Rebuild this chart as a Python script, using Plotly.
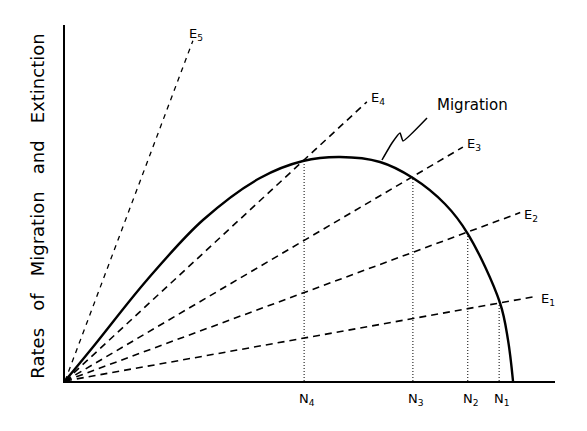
import plotly.graph_objects as go

# Migration curve (species number vs rate)
mig_x = [0, 5.71, 16.73, 28.16, 39.80, 48.57, 56.12, 64.29, 71.02, 77.55, 82.24, 88.78, 90.41, 91.43]
mig_y = [0, 9.55, 28.37, 45.22, 57.02, 61.80, 62.92, 61.52, 57.02, 49.72, 41.29, 21.91, 11.52, 0]

# Extinction lines: end points of each straight line from the origin
ext_names = ["E1", "E2", "E3", "E4", "E5"]
ext_end_x = [96.3, 92.9, 81.2, 61.6, 26.1]
ext_end_y = [23.8, 47.3, 65.7, 78.4, 95.6]

# Equilibria (species number, rate)
eq_names = ["N1", "N2", "N3", "N4"]
eq_x = [88.6, 82.2, 71.0, 48.8]
eq_y = [22.0, 41.3, 57.0, 61.9]

# Pointer squiggle for the "Migration" label
pointer_x = [64.69, 66.73, 68.37, 68.98, 73.88]
pointer_y = [62.08, 66.85, 69.66, 67.42, 73.88]

# label offsets (styling, pixels)
ext_label_dx = [2, 2, 2, 2, -6]
ext_label_dy = [-3, -3, 3, 3, 6]

FONT = "DejaVu Sans"
fig = go.Figure()

# dotted verticals
for xv, yv in zip(eq_x, eq_y):
    fig.add_trace(go.Scatter(x=[xv, xv], y=[0, yv], mode="lines",
                             line=dict(color="black", width=1, dash="1px,2px"),
                             hoverinfo="skip", showlegend=False))

# extinction dashed lines
for i, (xe, ye) in enumerate(zip(ext_end_x, ext_end_y)):
    fine = (i == 4)
    fig.add_trace(go.Scatter(x=[0, xe], y=[0, ye], mode="lines",
                             line=dict(color="black", width=1.3 if fine else 1.6,
                                       dash="5px,5px" if fine else "7px,5px"),
                             hoverinfo="skip", showlegend=False))

# migration curve
fig.add_trace(go.Scatter(x=mig_x, y=mig_y, mode="lines",
                         line=dict(color="black", width=2.4, shape="spline", smoothing=1.0),
                         hoverinfo="skip", showlegend=False))

# pointer
fig.add_trace(go.Scatter(x=pointer_x, y=pointer_y, mode="lines",
                         line=dict(color="black", width=1.5, shape="spline", smoothing=0.4),
                         hoverinfo="skip", showlegend=False))

ann = []
# E labels
for name, xe, ye, dx, dy in zip(ext_names, ext_end_x, ext_end_y, ext_label_dx, ext_label_dy):
    ann.append(dict(x=xe, y=ye, xref="x", yref="y",
                    text=f"{name[0]}<sub>{name[1]}</sub>", showarrow=False,
                    xanchor="left", yanchor="middle", xshift=dx, yshift=dy,
                    font=dict(family=FONT, size=13, color="black")))
# N labels
for name, xv in zip(eq_names, eq_x):
    ann.append(dict(x=xv, y=0, xref="x", yref="y",
                    text=f"{name[0]}<sub>{name[1]}</sub>", showarrow=False,
                    xanchor="center", yanchor="top", xshift=3, yshift=-8,
                    font=dict(family=FONT, size=13, color="black")))
# Migration label
ann.append(dict(x=83.1, y=77.5, xref="x", yref="y", text="Migration",
                showarrow=False, xanchor="center", yanchor="middle",
                font=dict(family=FONT, size=15, color="black")))
# y-axis title
ann.append(dict(x=-0.057, y=0.49, xref="paper", yref="paper",
                text="Rates\u00a0\u00a0\u00a0of\u00a0\u00a0\u00a0Migration\u00a0\u00a0\u00a0and\u00a0\u00a0\u00a0Extinction",
                textangle=-90, showarrow=False, xanchor="center", yanchor="middle",
                font=dict(family=FONT, size=18, color="black")))

fig.update_layout(
    width=579, height=423,
    margin=dict(l=57, r=32, t=17, b=50),
    paper_bgcolor="white", plot_bgcolor="white",
    annotations=ann,
    xaxis=dict(range=[0, 100], showgrid=False, zeroline=False, showticklabels=False,
               ticks="", showline=True, linecolor="black", linewidth=2),
    yaxis=dict(range=[0, 100], showgrid=False, zeroline=False, showticklabels=False,
               ticks="", showline=True, linecolor="black", linewidth=2),
)

fig.write_html("out.html")
